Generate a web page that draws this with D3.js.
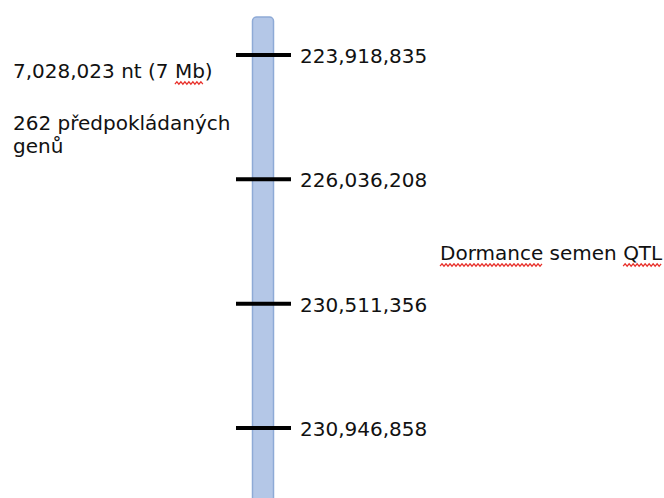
<!DOCTYPE html>
<html><head><meta charset="utf-8">
<script src="https://cdn.jsdelivr.net/npm/d3@7"></script>
<style>html,body{margin:0;padding:0;background:#fff;overflow:hidden}</style>
</head><body>
<script>
const tickLabels = ["223,918,835", "226,036,208", "230,511,356", "230,946,858"];
const infoLines = ["7,028,023 nt (7 Mb)", "262 předpokládaných", "genů"];
const regionLabel = "Dormance semen QTL";
const misspelled = [["7,028,023 nt (7 Mb)", "Mb"], ["Dormance semen QTL", "Dormance"], ["Dormance semen QTL", "QTL"]];

const W = 664, H = 498;
const svg = d3.select("body").append("svg").attr("width", W).attr("height", H);
const font = "DejaVu Sans, Verdana, sans-serif";

const y = d3.scalePoint().domain(tickLabels).range([55, 428]);

// chromosome bar
svg.append("rect").attr("x", 252.5).attr("y", 17).attr("width", 21).attr("height", 520)
  .attr("rx", 4).attr("fill", "#b4c7e7").attr("stroke", "#8eaad6").attr("stroke-width", 1.5);

// ticks
svg.selectAll("line.tick").data(tickLabels).join("line").attr("class", "tick")
  .attr("x1", 236).attr("x2", 291).attr("y1", d => y(d)).attr("y2", d => y(d))
  .attr("stroke", "#000").attr("stroke-width", 4);

svg.selectAll("text.tl").data(tickLabels).join("text").attr("class", "tl")
  .attr("x", 300).attr("y", d => y(d) + 8).attr("font-family", font).attr("font-size", 20)
  .attr("fill", "#111").text(d => d);

const texts = [];
const infoY = [78, 130, 153];
infoLines.forEach((t, i) => {
  texts.push(svg.append("text").attr("x", 13).attr("y", infoY[i]).attr("font-family", font)
    .attr("font-size", 20).attr("fill", "#111").text(t));
});
texts.push(svg.append("text").attr("x", 440).attr("y", 260).attr("font-family", font)
  .attr("font-size", 20).attr("fill", "#111").text(regionLabel));

// spell-check squiggles
misspelled.forEach(([line, word]) => {
  const tsel = texts.find(t => t.text() === line);
  const node = tsel.node();
  const idx = line.indexOf(word);
  const x0 = node.getStartPositionOfChar(idx).x;
  const len = node.getSubStringLength(idx, word.length);
  const by = +tsel.attr("y") + 5;
  const pts = [];
  for (let x = x0, k = 0; x <= x0 + len; x += 2, k++) pts.push([x, by + (k % 2 ? -1.2 : 1.2)]);
  svg.append("path").attr("d", d3.line()(pts)).attr("fill", "none").attr("stroke", "#e8302a").attr("stroke-width", 1.2);
});
</script>
</body></html>
